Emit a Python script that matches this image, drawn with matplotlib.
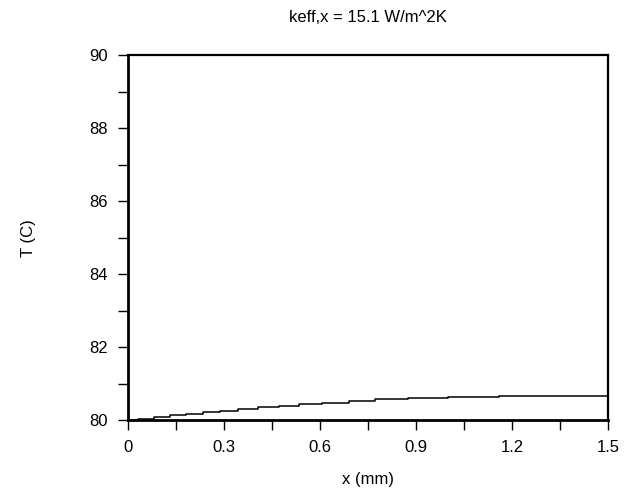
import matplotlib
matplotlib.use("Agg")
import matplotlib.pyplot as plt

plt.rcParams['font.family'] = ['Liberation Sans', 'DejaVu Sans']

# Step start positions (mm) and temperature levels (C)
step_x = [0.0, 0.034, 0.084, 0.133, 0.183, 0.237, 0.289, 0.346, 0.407,
          0.474, 0.534, 0.607, 0.690, 0.773, 0.876, 1.001, 1.159]
step_T = [80.00, 80.036, 80.074, 80.13, 80.17, 80.22, 80.25, 80.30, 80.35,
          80.39, 80.43, 80.47, 80.53, 80.57, 80.60, 80.64, 80.67]
x_end = 1.5

title = "keff,x = 15.1 W/m^2K"
xlabel = "x (mm)"
ylabel = "T (C)"
xtick_labels = ["0", "0.3", "0.6", "0.9", "1.2", "1.5"]
ytick_labels = ["80", "82", "84", "86", "88", "90"]

fig = plt.figure(figsize=(6.26, 4.93), dpi=100)
ax = fig.add_axes([0.2037, 0.148, 0.9712 - 0.2037, 0.8878 - 0.148])

ax.step(step_x + [x_end], step_T + [step_T[-1]], where='post', color='black', lw=1.1)

ax.set_xlim(0, 1.5)
ax.set_ylim(80, 90)

xt = [i * 0.15 for i in range(11)]
ax.set_xticks(xt)
ax.set_xticklabels([xtick_labels[i // 2] if i % 2 == 0 else "" for i in range(11)])
yt = list(range(80, 91))
ax.set_yticks(yt)
ax.set_yticklabels([ytick_labels[(v - 80) // 2] if v % 2 == 0 else "" for v in yt])

ax.tick_params(direction='out', length=7.5, width=1.0, labelsize=12, pad=7, colors='black')
for s in ['left', 'bottom']:
    ax.spines[s].set_linewidth(2.0)
for s in ['top', 'right']:
    ax.spines[s].set_linewidth(1.6)

ax.set_title(title, fontsize=12, pad=24)
ax.set_xlabel(xlabel, fontsize=12, labelpad=12)
ax.set_ylabel(ylabel, fontsize=12, labelpad=38)

fig.savefig("out.png", dpi=100)
